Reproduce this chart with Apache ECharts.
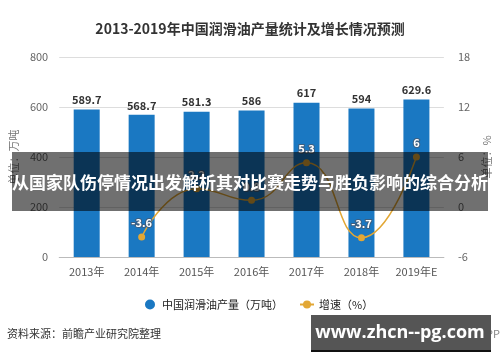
<!DOCTYPE html>
<html><head><meta charset="utf-8">
<script src="https://cdn.jsdelivr.net/npm/echarts@6/dist/echarts.min.js"></script>
<style>html,body{margin:0;padding:0;background:#fff;}#c{width:500px;height:362px;}</style>
</head><body><div id="c"></div>
<script>
var categories = ['2013年','2014年','2015年','2016年','2017年','2018年','2019年E'];
var production = [589.7, 568.7, 581.3, 586, 617, 594, 629.6];
var growth = ['-', -3.6, 2.2, 0.8, 5.3, -3.7, 6];
var leftTicks = [0, 800, 200];
var rightTicks = [-6, 18, 6];
var titleText = '2013-2019年中国润滑油产量统计及增长情况预测';
var seriesNames = ['中国润滑油产量（万吨）', '增速（%）'];
var sourceText = '资料来源：前瞻产业研究院整理';
var bannerText = '从国家队伤停情况出发解析其对比赛走势与胜负影响的综合分析';
var siteText = 'www.zhcn--pg.com';
var appText = '@前瞻经济学人APP';

var font = '"Noto Sans CJK SC","Noto Sans",sans-serif';
var chart = echarts.init(document.getElementById('c'));
chart.setOption({
  animation: false,
  textStyle: {fontFamily: font},
  title: {text: titleText, left: 'center', top: 17,
    textStyle: {fontSize: 14, fontWeight: 'bold', color: '#333', fontFamily: font}},
  grid: {left: 58, right: 53, top: 57, bottom: 105},
  legend: {bottom: 47, left: 140, itemGap: 16, itemWidth: 14, itemHeight: 10,
    textStyle: {fontSize: 11, color: '#222'},
    data: [{name: seriesNames[0], icon: 'circle'}, {name: seriesNames[1]}]},
  xAxis: {type: 'category', data: categories,
    axisLine: {lineStyle: {color: '#bbb'}}, axisTick: {show: false},
    axisLabel: {color: '#555', fontSize: 11, margin: 9}},
  yAxis: [
    {type: 'value', min: leftTicks[0], max: leftTicks[1], interval: leftTicks[2],
     name: '单位：万吨', nameLocation: 'middle', nameGap: 38,
     nameTextStyle: {color: '#777', fontSize: 11},
     axisLine: {show: false}, axisTick: {show: false},
     axisLabel: {color: '#666', fontSize: 11, margin: 11},
     splitLine: {lineStyle: {color: '#ddd'}}},
    {type: 'value', min: rightTicks[0], max: rightTicks[1], interval: rightTicks[2],
     name: '单位：%', nameLocation: 'middle', nameGap: 36,
     nameTextStyle: {color: '#777', fontSize: 11},
     axisLine: {show: false}, axisTick: {show: false},
     axisLabel: {color: '#666', fontSize: 11, margin: 14},
     splitLine: {show: false}}
  ],
  series: [
    {name: seriesNames[0], type: 'bar', data: production, barWidth: 26,
     itemStyle: {color: '#1a78c2'},
     label: {show: true, position: 'top', color: '#333', fontSize: 11, fontWeight: 'bold', distance: 4}},
    {name: seriesNames[1], type: 'line', yAxisIndex: 1, data: growth, smooth: true,
     symbol: 'circle', symbolSize: 7,
     lineStyle: {color: '#e2a735', width: 1.5}, itemStyle: {color: '#e2a735'},
     label: {show: true, position: 'top', color: '#fff', fontSize: 11, fontWeight: 'bold',
       textBorderColor: '#3d5f80', textBorderWidth: 2, distance: 5}}
  ],
  graphic: [
    {type: 'text', left: 7, top: 328, z: 10,
     style: {text: sourceText, fill: '#333', fontSize: 11, fontFamily: font}},
    {type: 'text', right: 0, top: 328, z: 10,
     style: {text: appText, fill: '#888', fontSize: 11, fontFamily: font}},
    {type: 'rect', shape: {x: 12, y: 152, width: 476, height: 59}, z: 100,
     style: {fill: 'rgba(0,0,0,0.56)'}},
    {type: 'text', x: 250, y: 183, z: 101,
     style: {text: bannerText, fill: '#fff', fontSize: 17, fontWeight: 'bold', fontFamily: font,
       textAlign: 'center', textVerticalAlign: 'middle'}},
    {type: 'rect', shape: {x: 311, y: 315, width: 180, height: 37}, z: 100,
     style: {fill: '#555'}},
    {type: 'rect', shape: {x: 311, y: 350, width: 180, height: 2}, z: 101,
     style: {fill: '#111'}},
    {type: 'text', x: 400, y: 333, z: 102,
     style: {text: siteText, fill: '#fff', fontSize: 18, fontWeight: 'bold', fontFamily: '"Open Sans",sans-serif',
       textAlign: 'center', textVerticalAlign: 'middle'}}
  ]
});
</script></body></html>
